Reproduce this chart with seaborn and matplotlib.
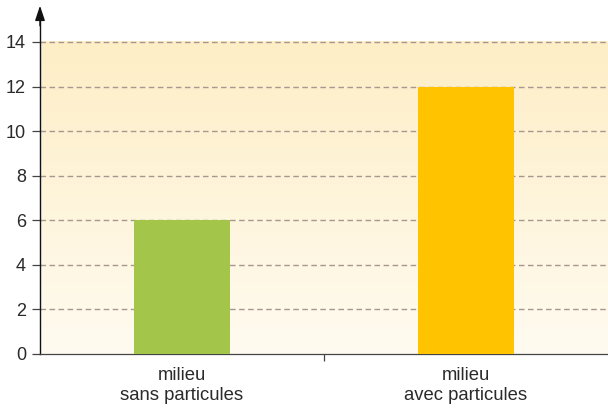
import numpy as np
import pandas as pd
import matplotlib
matplotlib.use("Agg")
import matplotlib.pyplot as plt
import matplotlib.colors as mcolors
import seaborn as sns

categories = ["milieu\nsans particules", "milieu\navec particules"]
values = [6, 12]
bar_colors = ["#A3C54A", "#FFC300"]
yticks = [0, 2, 4, 6, 8, 10, 12, 14]

sns.set_style("white")
plt.rcParams['font.family'] = ['Liberation Sans', 'DejaVu Sans']

fig = plt.figure(figsize=(6.08, 4.08), dpi=100)
ax = fig.add_axes([40/608, 1 - 354/408, 1 - 40/608, (354 - 8.5)/408])

df = pd.DataFrame({"cat": categories, "val": values})

# background gradient
cmap = mcolors.LinearSegmentedColormap.from_list("bg", ["#FEFBF0", "#FFEEC6"])
grad = np.linspace(0, 1, 256).reshape(-1, 1)
ax.imshow(grad, extent=[-0.5, 1.5, 0, 14], origin="lower", cmap=cmap,
          aspect="auto", zorder=0)

sns.barplot(data=df, x="cat", y="val", hue="cat", palette=bar_colors,
            width=0.337, legend=False, ax=ax, zorder=3, edgecolor="none",
            saturation=1)

ax.set_xlim(-0.5, 1.5)
ax.set_ylim(0, 15.5)
ax.set_yticks(yticks)
ax.set_yticklabels([str(v) for v in yticks])
for v in yticks[1:]:
    ax.axhline(v, color="#A8968F", lw=1.0, ls=(0, (4, 2.5)), zorder=2)

ax.set_xlabel("")
ax.set_ylabel("")
ax.tick_params(axis="x", length=0, pad=9, labelsize=13.3, labelcolor="#2a2a2a")
for lab in ax.get_xticklabels():
    lab.set_linespacing(1.3)
ax.tick_params(axis="y", length=6, width=0.9, color="#444444", pad=4,
               labelsize=13, labelcolor="#2a2a2a", left=True)
ax.set_xticks([0.5], minor=True)
ax.tick_params(axis="x", which="minor", length=5, width=0.9, color="#444444",
               bottom=True, direction="out")

for s in ["top", "right"]:
    ax.spines[s].set_visible(False)
ax.spines["left"].set_color("#111111")
ax.spines["left"].set_linewidth(1.0)
ax.spines["bottom"].set_color("#444444")
ax.spines["bottom"].set_linewidth(0.9)
ax.spines["left"].set_bounds(0, 15.0)

# arrow at top of y axis
ax.annotate("", xy=(-0.5, 15.75), xytext=(-0.5, 14.6),
            arrowprops=dict(arrowstyle="-|>,head_width=0.3,head_length=0.9",
                            color="#111111", lw=1.0),
            annotation_clip=False, zorder=5)

fig.savefig("out.png", dpi=100)
